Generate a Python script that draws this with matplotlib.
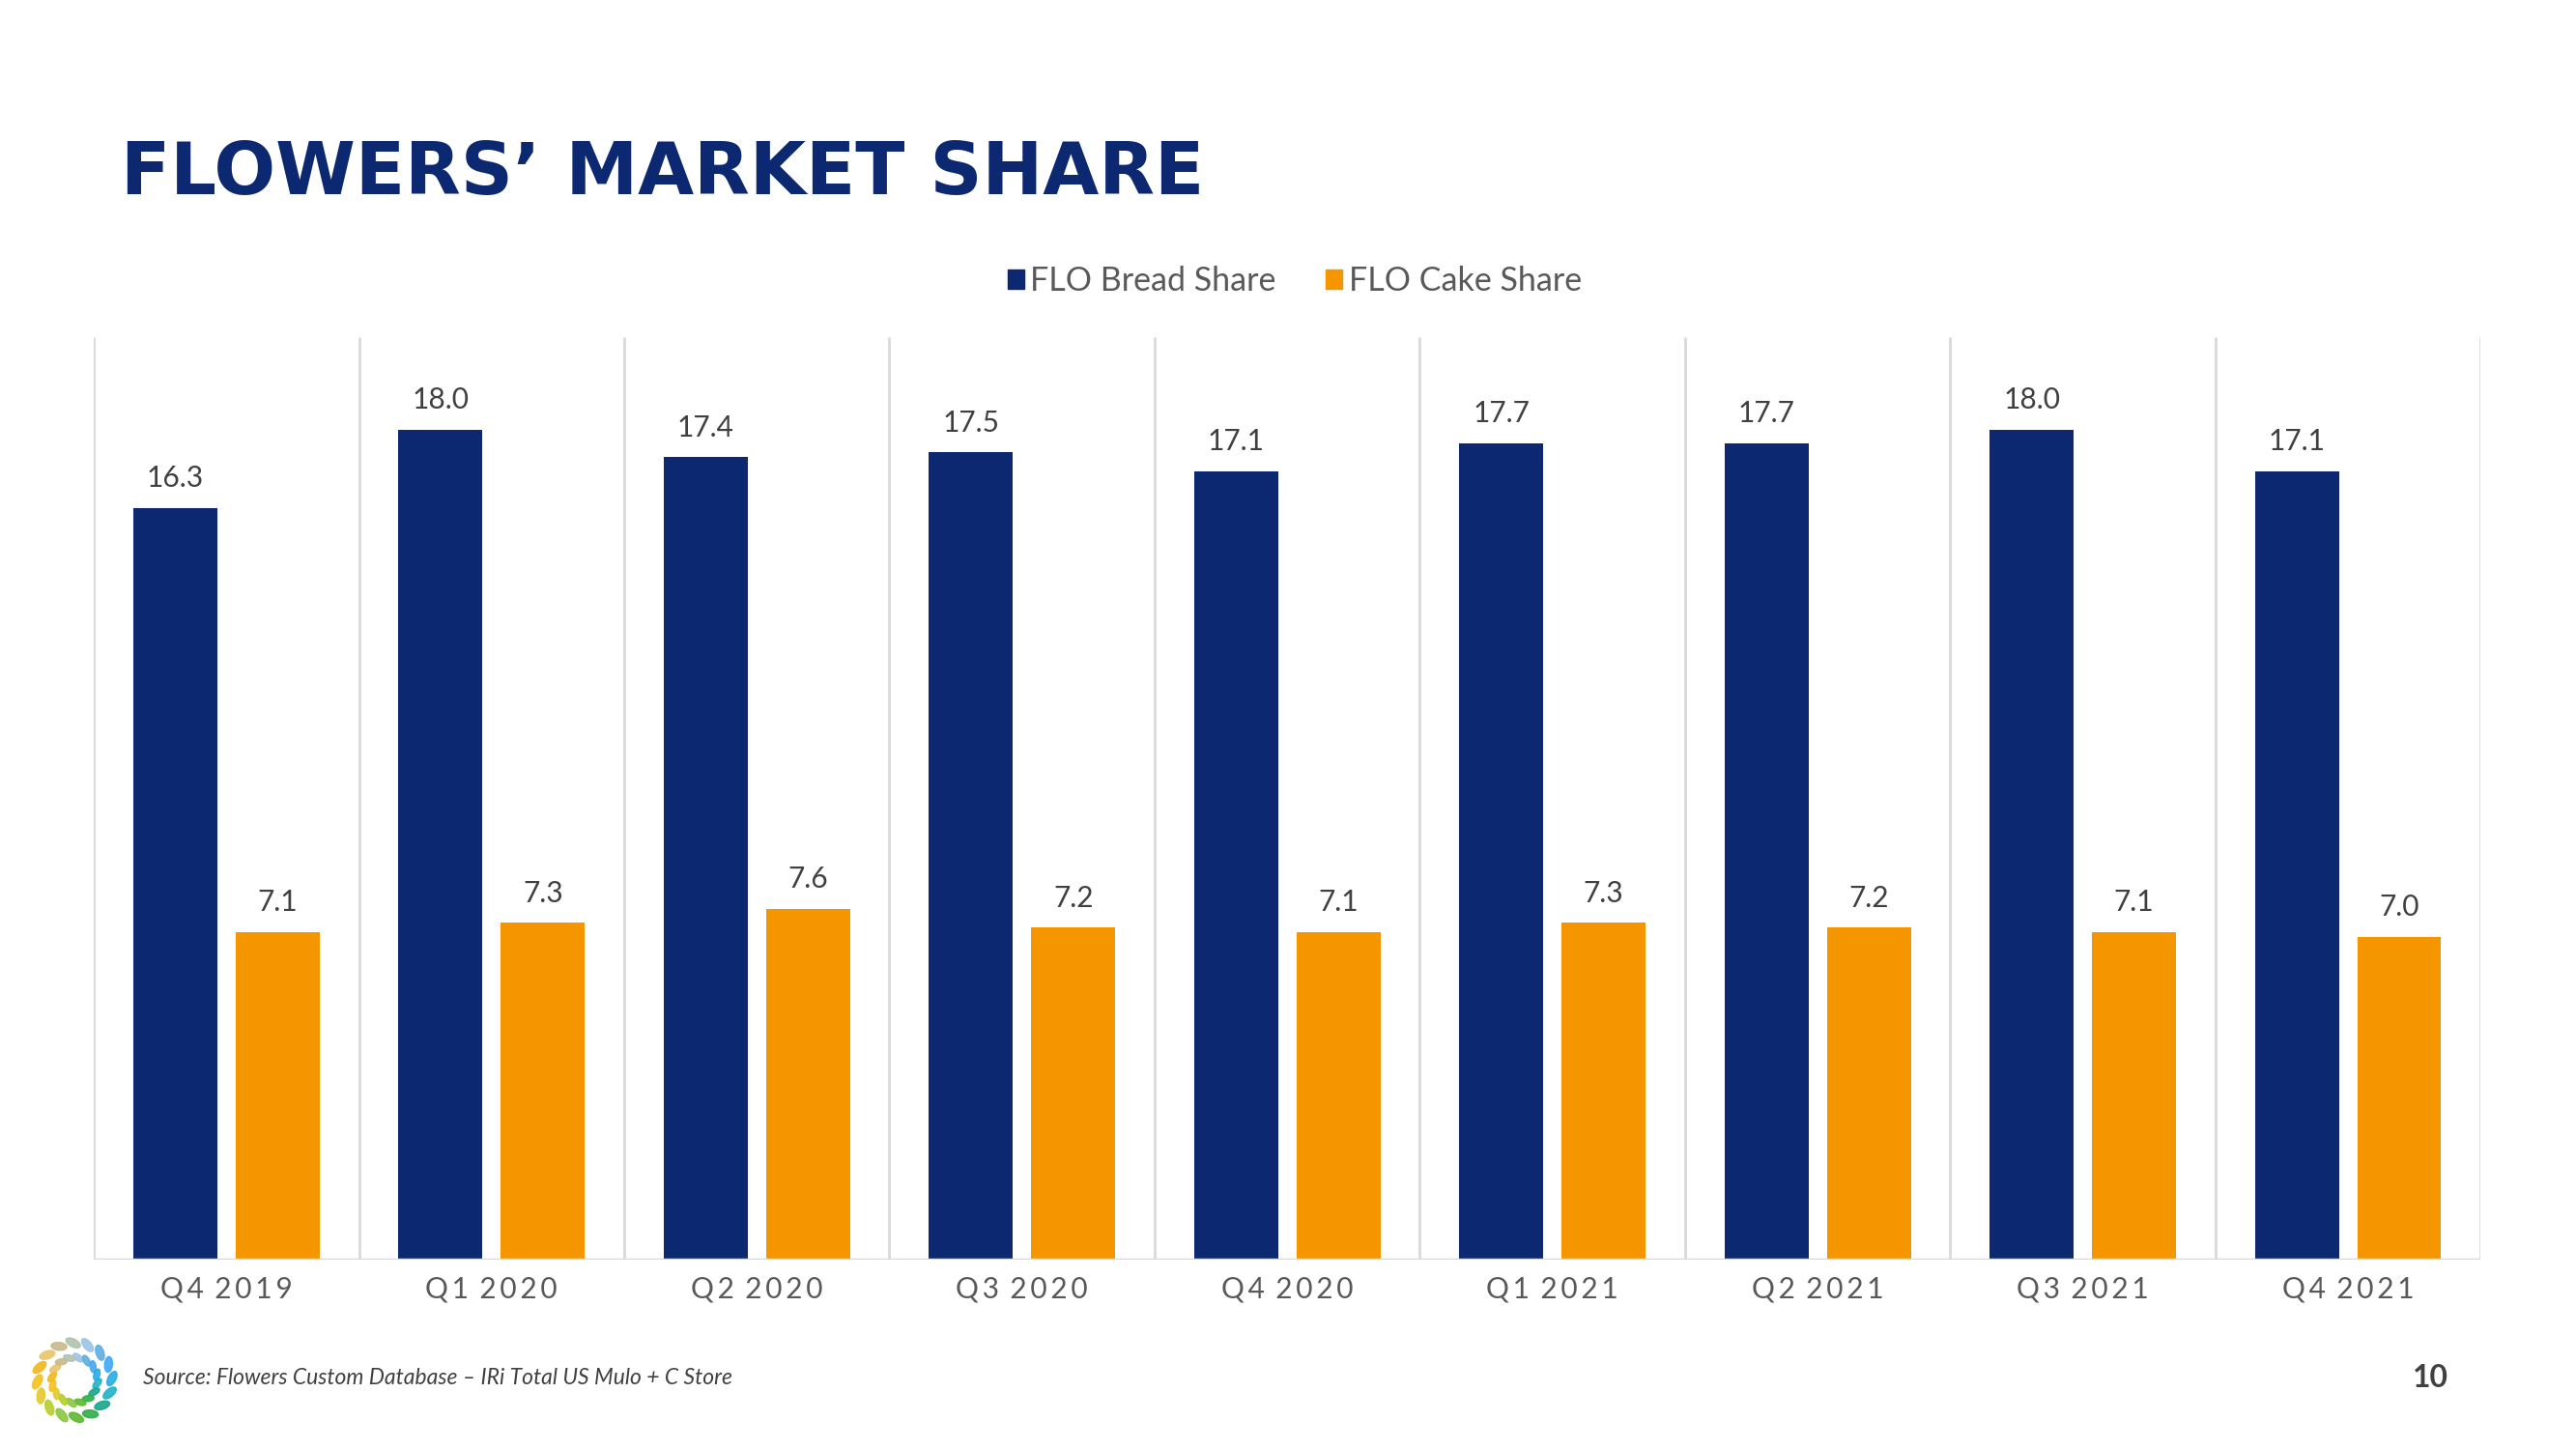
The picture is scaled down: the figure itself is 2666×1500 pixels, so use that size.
import numpy as np
import matplotlib.pyplot as plt
from matplotlib.patches import Patch, Ellipse

# data
quarters = ['Q4 2019', 'Q1 2020', 'Q2 2020', 'Q3 2020', 'Q4 2020',
            'Q1 2021', 'Q2 2021', 'Q3 2021', 'Q4 2021']
bread_share = [16.3, 18.0, 17.4, 17.5, 17.1, 17.7, 17.7, 18.0, 17.1]
cake_share = [7.1, 7.3, 7.6, 7.2, 7.1, 7.3, 7.2, 7.1, 7.0]
series_names = ['FLO Bread Share', 'FLO Cake Share']

navy = '#0B2870'
orange = '#F59600'
grid_col = '#D9D9D9'
txt_col = '#404040'

plt.rcParams['font.family'] = ['Lato', 'DejaVu Sans']

fig = plt.figure(figsize=(26.66, 15), dpi=100)
ax = fig.add_axes([0.0364, 0.1307, 0.9266, 0.6366])

x = np.arange(len(quarters))
w = 0.316
off = 0.193
b1 = ax.bar(x - off, bread_share, w, color=navy, zorder=2)
b2 = ax.bar(x + off, cake_share, w, color=orange, zorder=2)

for bars, vals in ((b1, bread_share), (b2, cake_share)):
    for r, v in zip(bars, vals):
        ax.annotate(f'{v:.1f}', (r.get_x() + r.get_width() / 2, v),
                    xytext=(0, 12), textcoords='offset points',
                    ha='center', va='bottom', fontsize=21.5, color=txt_col)

ax.set_xlim(-0.5, len(quarters) - 0.5)
ax.set_ylim(0, 20)
# category separators
ax.vlines(np.arange(len(quarters) + 1) - 0.5, 0, 20, color=grid_col, lw=2, zorder=1)
ax.axhline(0, color=grid_col, lw=2.5, zorder=3)
for s in ax.spines.values():
    s.set_visible(False)
ax.set_yticks([])
ax.set_xticks(x)
# letter-spaced category labels
ax.set_xticklabels(['\u2009'.join(q).replace('\u2009 \u2009', ' \u2009') for q in quarters],
                   fontsize=21.5, color='#595959')
ax.tick_params(axis='x', length=0, pad=12)

# legend
handles = [Patch(color=navy), Patch(color=orange)]
fig.legend(handles, series_names, loc='center', bbox_to_anchor=(0.5025, 0.806),
           ncol=2, frameon=False, fontsize=24.5, labelcolor='#595959',
           handlelength=0.5, handleheight=0.5, handletextpad=0.2,
           columnspacing=1.5)

# title and footer
fig.text(0.047, 0.88, 'FLOWERS\u2019 MARKET SHARE', fontsize=54,
         fontweight='bold', family=['DejaVu Sans'],
         color=navy, va='center', ha='left')
fig.text(0.0555, 0.0487, 'Source: Flowers Custom Database \u2013 IRi Total US Mulo + C Store',
         fontsize=16.5, style='italic', color=txt_col, va='center', ha='left')
fig.text(0.9505, 0.0493, '10', fontsize=23, fontweight='bold', color=txt_col,
         va='center', ha='right')

# logo: ring of petals
lax = fig.add_axes([0.004, 0.015, 0.05, 0.065])
lax.set_xlim(-1.2, 1.2)
lax.set_ylim(-1.2, 1.2)
lax.set_aspect('equal')
lax.axis('off')
petal_cols = ['#9DC3E6', '#5DADE2', '#3FA9F5', '#29ABE2', '#1FB3C8', '#17A589',
              '#2EAE4A', '#5CB82E', '#8CC63F', '#B5CF2A', '#E5C92A', '#F4C21B',
              '#F2B81B', '#E9C46A', '#C8B98A', '#AFC2B0']
for i, c in enumerate(petal_cols):
    ang = np.pi / 2 - 0.35 - i * 2 * np.pi / len(petal_cols)
    for rr, sz in ((0.95, 0.4), (0.58, 0.3)):
        a = ang + (0.2 if rr < 0.9 else 0)
        lax.add_patch(Ellipse((rr * np.cos(a), rr * np.sin(a)), sz, sz * 0.5,
                              angle=np.degrees(a) + 60, color=c, alpha=0.9))

fig.savefig('out.png', dpi=100)
